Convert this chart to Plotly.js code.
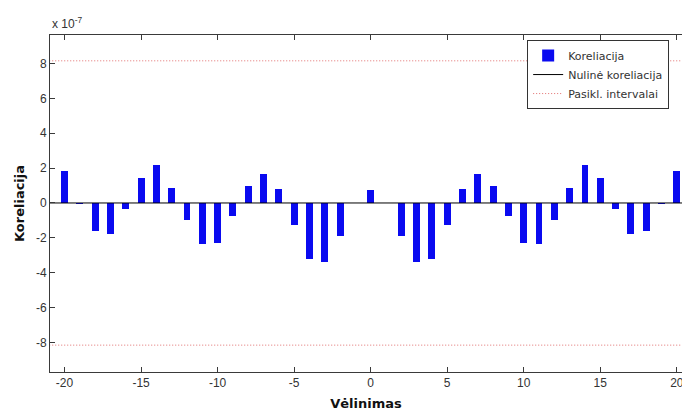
<!DOCTYPE html>
<html>
<head>
<meta charset="utf-8">
<script src="https://cdn.plot.ly/plotly-3.0.1.min.js"></script>
<style>
  html, body { margin: 0; padding: 0; background: #fff; }
  #chart { width: 682px; height: 415px; }
</style>
</head>
<body>
<div id="chart"></div>
<script>
// Lags of the correlation function
const lags = [-20,-19,-18,-17,-16,-15,-14,-13,-12,-11,-10,-9,-8,-7,-6,-5,-4,-3,-2,-1,
              0,1,2,3,4,5,6,7,8,9,10,11,12,13,14,15,16,17,18,19,20];
// Correlation values, in units of 1e-7
const corr = [1.83,-0.06,-1.58,-1.77,-0.34,1.41,2.19,0.88,-0.99,-2.36,-2.30,-0.74,0.95,1.66,0.82,-1.24,-3.20,-3.37,-1.90,0,
              0.77,0,-1.90,-3.37,-3.20,-1.24,0.82,1.66,0.95,-0.74,-2.30,-2.36,-0.99,0.88,2.19,1.41,-0.34,-1.77,-1.58,-0.06,1.83];
// Confidence bound (units of 1e-7) and the lag span of the reference lines
const confBound = 8.15;
const lineSpan = [-21, 21];
const yTicks = [-8,-6,-4,-2,0,2,4,6,8];
const xTicks = [-20,-15,-10,-5,0,5,10,15,20];

const axisColor = '#3a3a3a';
const labelFont = {family: 'Liberation Sans, Arial, sans-serif', size: 12, color: '#333'};
const boundLine = {color: 'rgb(225,110,110)', width: 1, dash: '1px,2px'};

const traces = [
  {
    type: 'bar', name: 'Koreliacija',
    x: lags, y: corr, width: 0.45,
    marker: {color: 'rgb(10,10,240)', line: {width: 0}}
  },
  {
    type: 'scatter', mode: 'lines', name: 'Nulinė koreliacija',
    x: lineSpan, y: [0, 0],
    line: {color: '#000', width: 1}
  },
  {
    type: 'scatter', mode: 'lines', name: 'Pasikl. intervalai',
    x: lineSpan, y: [confBound, confBound],
    line: boundLine
  },
  {
    type: 'scatter', mode: 'lines', name: 'Pasikl. intervalai', showlegend: false,
    x: lineSpan, y: [-confBound, -confBound],
    line: boundLine
  }
];

const layout = {
  width: 682, height: 415,
  margin: {l: 50, r: 0, t: 35, b: 43},
  paper_bgcolor: '#fff', plot_bgcolor: '#fff',
  showlegend: true,
  bargap: 0,
  xaxis: {
    range: [-20.95, 20.34],
    tickvals: xTicks, ticktext: xTicks.map(String),
    ticks: 'inside', ticklen: 5, tickcolor: axisColor, tickwidth: 1,
    ticklabeloverflow: 'allow',
    showline: true, linecolor: axisColor, linewidth: 1, mirror: 'ticks',
    showgrid: false, zeroline: false,
    tickfont: labelFont,
    title: {text: 'Vėlinimas', font: {family: 'DejaVu Sans, sans-serif', size: 13, color: '#111', weight: 'bold'}, standoff: 9}
  },
  yaxis: {
    range: [-9.69, 9.63],
    tickvals: yTicks, ticktext: yTicks.map(String),
    ticks: 'inside', ticklen: 5, tickcolor: axisColor, tickwidth: 1,
    showline: true, linecolor: axisColor, linewidth: 1, mirror: false,
    showgrid: false, zeroline: false,
    tickfont: labelFont,
    title: {text: 'Koreliacija', font: {family: 'DejaVu Sans, sans-serif', size: 13, color: '#111', weight: 'bold'}, standoff: 8}
  },
  legend: {
    x: 0.755, y: 0.985, xanchor: 'left', yanchor: 'top',
    bgcolor: '#fff', bordercolor: '#333', borderwidth: 1,
    font: {family: 'DejaVu Sans, sans-serif', size: 11, color: '#333'},
    tracegroupgap: 0, itemwidth: 30
  },
  annotations: [
    {
      xref: 'paper', yref: 'paper', x: 0, y: 1, xanchor: 'left', yanchor: 'bottom',
      yshift: 2, showarrow: false,
      text: 'x 10<sup>-7</sup>',
      font: {family: 'Liberation Sans, Arial, sans-serif', size: 12, color: '#333'}
    }
  ]
};

Plotly.newPlot('chart', traces, layout, {displayModeBar: false, staticPlot: true});
</script>
</body>
</html>
